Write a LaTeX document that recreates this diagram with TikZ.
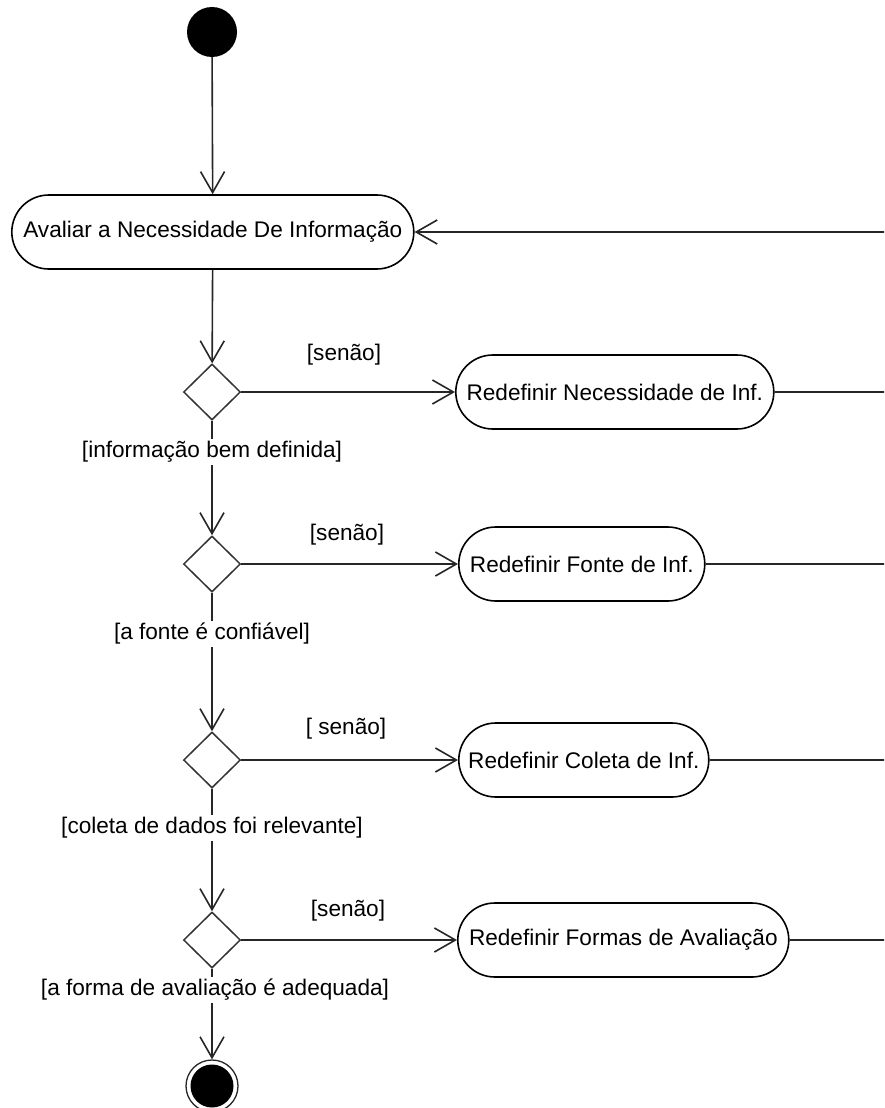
\documentclass[tikz,border=0pt]{standalone}
\usepackage{fontspec}
\setmainfont{Liberation Sans}
\usetikzlibrary{shapes.misc,shapes.geometric,arrows.meta}
\begin{document}
\begin{tikzpicture}[x=1pt,y=-1pt,
  font=\fontsize{22.6}{26}\selectfont,
  flow/.style={line width=1.6pt, draw=black!85},
  arr/.style={flow, -{Straight Barb[length=21pt,width=24pt,line width=1.6pt]}},
  action/.style={rounded rectangle, draw=black, line width=1.6pt, minimum height=74pt, inner sep=0pt, anchor=west},
  decision/.style={diamond, draw=black!80, line width=1.5pt, minimum width=57pt, minimum height=56pt, inner sep=0pt},
  guard/.style={fill=white, inner sep=2pt},
  other/.style={inner sep=1pt}
]
\useasboundingbox (0,0) rectangle (884,1108);
\clip (0,0) rectangle (884,1108);

% initial and final states
\node[circle, fill=black, minimum size=50pt, inner sep=0pt] (start) at (212,32) {};
\node[circle, draw=black!85, line width=1.3pt, minimum size=52pt, inner sep=0pt,
      path picture={\fill[black] (path picture bounding box.center) circle (21.5pt);}] (stop) at (212,1086) {};

% main column
\node[action, minimum width=402pt] (eval) at (11,232) {Avaliar a Necessidade De Informação};
\node[decision] (d1) at (212,392) {};
\node[decision] (d2) at (212,564) {};
\node[decision] (d3) at (212,760) {};
\node[decision] (d4) at (212,940) {};

% corrective actions
\node[action, minimum width=318pt] (r1) at (455,392) {Redefinir Necessidade de Inf.};
\node[action, minimum width=246pt] (r2) at (458,564) {Redefinir Fonte de Inf.};
\node[action, minimum width=250pt] (r3) at (458,760) {Redefinir Coleta de Inf.};
\node[action, minimum width=331pt] (r4) at (457,940) {Redefinir Formas de Avaliação};

% loop-back ends at the right border
\coordinate (back0) at (884,232);
\coordinate (back1) at (884,392);
\coordinate (back2) at (884,564);
\coordinate (back3) at (884,760);
\coordinate (back4) at (884,940);

% flow
\draw[arr] (start) -- (eval);
\draw[arr] (eval) -- (d1);
\draw[arr] (d1) -- (d2);
\draw[arr] (d2) -- (d3);
\draw[arr] (d3) -- (d4);
\draw[arr] (d4) -- (stop);

\draw[arr] (d1) -- (r1);
\draw[arr] (d2) -- (r2);
\draw[arr] (d3) -- (r3);
\draw[arr] (d4) -- (r4);

\draw[flow] (r1) -- (back1);
\draw[flow] (r2) -- (back2);
\draw[flow] (r3) -- (back3);
\draw[flow] (r4) -- (back4);
\draw[arr] (back0) -- (eval);

% guards
\node[guard] (g1) at (212,452) {[informação bem definida]};
\node[guard] (g2) at (212,634) {[a fonte é confiável]};
\node[guard] (g3) at (212,828) {[coleta de dados foi relevante]};
\node[guard] (g4) at (215,990) {[a forma de avaliação é adequada]};

\node[other] (e1) at (344,355) {[senão]};
\node[other] (e2) at (347,535) {[senão]};
\node[other] (e3) at (346,729) {[ senão]};
\node[other] (e4) at (348,911) {[senão]};
\end{tikzpicture}
\end{document}
